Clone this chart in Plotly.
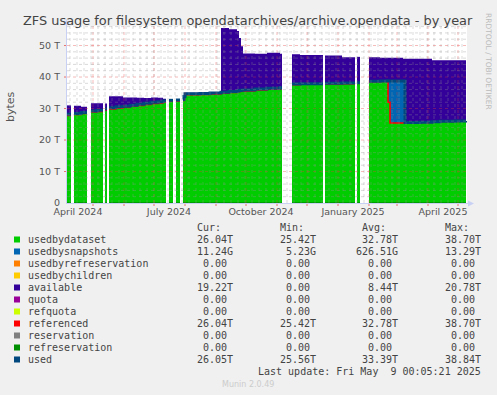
import plotly.graph_objects as go
import pandas as pd

# ---------------- data (values in TB) ----------------
dates = [
    "2024-04-05", "2024-04-09", "2024-04-10",
    "2024-04-12", "2024-04-19", "2024-04-25", "2024-04-26",
    "2024-04-29", "2024-05-05", "2024-05-11", "2024-05-12",
    "2024-05-13", "2024-05-15", "2024-05-16",
    "2024-05-17", "2024-05-24", "2024-05-31", "2024-06-07", "2024-06-14", "2024-06-21",
    "2024-06-28", "2024-07-05", "2024-07-10", "2024-07-13", "2024-07-14",
    "2024-07-16", "2024-07-20", "2024-07-21",
    "2024-07-23", "2024-07-27", "2024-07-28",
    "2024-07-30", "2024-07-31", "2024-08-01", "2024-08-16", "2024-08-26", "2024-09-06",
    "2024-09-14", "2024-09-22", "2024-09-24", "2024-09-26", "2024-09-28", "2024-10-10",
    "2024-10-22", "2024-11-04", "2024-11-06", "2024-11-07",
    "2024-11-16", "2024-11-24", "2024-12-17", "2024-12-18",
    "2024-12-19", "2025-01-05", "2025-01-18", "2025-01-19",
    "2025-01-20", "2025-01-23", "2025-01-24",
    "2025-02-01", "2025-02-12", "2025-02-19", "2025-02-20", "2025-02-22", "2025-03-07",
    "2025-03-09", "2025-03-24", "2025-04-05", "2025-04-13", "2025-04-28", "2025-05-09",
]
usedbydataset = [
    27.8, 27.8, None,
    28.1, 28.4, 28.4, None,
    28.9, 29.1, 29.1, None,
    29.5, 29.5, None,
    29.9, 30.2, 30.4, 30.7, 31.0, 31.3,
    31.6, 31.8, 32.0, 32.0, None,
    32.3, 32.3, None,
    32.4, 32.4, None,
    32.6, 33.5, 34.4, 34.5, 34.6, 34.9,
    35.1, 35.3, 35.4, 35.5, 35.6, 35.9,
    36.1, 36.3, 36.3, None,
    37.6, 37.7, 37.7, None,
    37.8, 37.9, 37.9, None,
    38.0, 38.0, None,
    38.5, 38.6, 38.7, 32.0, 25.42, 25.42,
    25.45, 25.60, 25.80, 25.90, 26.00, 26.04,
]
usedbysnapshots = [
    0.40, 0.40, None,
    0.35, 0.35, 0.35, None,
    0.35, 0.35, 0.35, None,
    0.35, 0.35, None,
    0.35, 0.35, 0.35, 0.35, 0.35, 0.35,
    0.35, 0.35, 0.35, 0.35, None,
    0.30, 0.30, None,
    0.30, 0.30, None,
    0.30, 0.30, 0.30, 0.30, 0.30, 0.30,
    0.30, 0.30, 0.30, 0.30, 0.30, 0.30,
    0.30, 0.30, 0.30, None,
    0.20, 0.20, 0.20, None,
    0.20, 0.20, 0.20, None,
    0.20, 0.20, None,
    0.14, 0.14, 0.14, 6.70, 13.29, 13.29,
    0.11, 0.05, 0.02, 0.02, 0.01, 0.01,
]
available = [
    2.80, 2.80, None,
    2.45, 1.85, 1.85, None,
    2.45, 2.25, 2.25, None,
    1.75, 1.75, None,
    3.65, 3.35, 2.75, 2.45, 2.05, 1.65,
    1.55, 1.25, 0.75, 0.75, None,
    0.40, 0.40, None,
    0.30, 0.30, None,
    0.30, 0.30, 0.30, 0.30, 0.30, 20.40,
    19.80, 19.00, 16.70, 14.00, 11.60, 11.20,
    11.30, 10.80, 10.80, None,
    9.40, 9.10, 9.10, None,
    8.80, 8.20, 8.20, None,
    8.20, 8.20, None,
    7.66, 7.36, 7.26, 7.40, 7.39, 7.09,
    20.24, 20.15, 19.48, 19.38, 19.29, 19.22,
]
referenced = [
    27.8, 27.8, None,
    28.1, 28.4, 28.4, None,
    28.9, 29.1, 29.1, None,
    29.5, 29.5, None,
    29.9, 30.2, 30.4, 30.7, 31.0, 31.3,
    31.6, 31.8, 32.0, 32.0, None,
    32.3, 32.3, None,
    32.4, 32.4, None,
    32.6, 33.5, 34.4, 34.5, 34.6, 34.9,
    35.1, 35.3, 35.4, 35.5, 35.6, 35.9,
    36.1, 36.3, 36.3, None,
    37.6, 37.7, 37.7, None,
    37.8, 37.9, 37.9, None,
    38.0, 38.0, None,
    38.5, 38.6, 38.7, 32.0, 25.42, 25.42,
    25.45, 25.60, 25.80, 25.90, 26.00, 26.04,
]
used = [
    28.2, 28.2, None,
    28.45, 28.75, 28.75, None,
    29.25, 29.45, 29.45, None,
    29.85, 29.85, None,
    30.25, 30.55, 30.75, 31.05, 31.35, 31.65,
    31.95, 32.15, 32.35, 32.35, None,
    32.6, 32.6, None,
    32.7, 32.7, None,
    32.9, 33.8, 34.7, 34.8, 34.9, 35.2,
    35.4, 35.6, 35.7, 35.8, 35.9, 36.2,
    36.4, 36.6, 36.6, None,
    37.8, 37.9, 37.9, None,
    38.0, 38.1, 38.1, None,
    38.2, 38.2, None,
    38.64, 38.74, 38.84, 38.70, 38.71, 38.71,
    25.56, 25.65, 25.82, 25.92, 26.01, 26.05,
]
# series that stay at zero over the whole period (same sampling as the others)
refreservation = [None if v is None else 0.0 for v in usedbydataset]

# x-axis labels
label_dates = ["2024-04-16", "2024-07-16", "2024-10-16", "2025-01-16", "2025-04-16"]
label_texts = ["April 2024", "July 2024", "October 2024", "January 2025", "April 2025"]
y_ticks = [0, 10, 20, 30, 40, 50]
y_labels = ["0", "10 T", "20 T", "30 T", "40 T", "50 T"]

# legend table
legend_names = ["usedbydataset", "usedbysnapshots", "usedbyrefreservation", "usedbychildren",
                "available", "quota", "refquota", "referenced", "reservation",
                "refreservation", "used"]
legend_colors = ["#00CC00", "#0066B3", "#FF8000", "#FFCC00", "#330099", "#990099",
                 "#CCFF00", "#FF0000", "#808080", "#008F00", "#00487D"]
cur_vals = ["26.04T", "11.24G", "0.00 ", "0.00 ", "19.22T", "0.00 ", "0.00 ", "26.04T", "0.00 ", "0.00 ", "26.05T"]
min_vals = ["25.42T", "5.23G", "0.00 ", "0.00 ", "0.00 ", "0.00 ", "0.00 ", "25.42T", "0.00 ", "0.00 ", "25.56T"]
avg_vals = ["32.78T", "626.51G", "0.00 ", "0.00 ", "8.44T", "0.00 ", "0.00 ", "32.78T", "0.00 ", "0.00 ", "33.39T"]
max_vals = ["38.70T", "13.29T", "0.00 ", "0.00 ", "20.78T", "0.00 ", "0.00 ", "38.70T", "0.00 ", "0.00 ", "38.84T"]

# ---------------- geometry helpers ----------------
W, H = 497, 395
PL, PR, PT, PB = 67, 467, 26, 203
X_RANGE = ["2024-04-05", "2025-05-10"]
Y_MAX = 56.2


def px(x):
    return (x - PL) / (PR - PL)


def py(y):
    return (PB - y) / (PB - PT)


SANS = "DejaVu Sans"
MONO = "DejaVu Sans Mono"

fig = go.Figure()

# split into contiguous blocks (gaps are None)
blocks = []
cur = []
for i, v in enumerate(usedbydataset):
    if v is None:
        if cur:
            blocks.append(cur)
        cur = []
    else:
        cur.append(i)
if cur:
    blocks.append(cur)

for b in blocks:
    bx = [dates[i] for i in b]
    top_all = [usedbydataset[i] + usedbysnapshots[i] + available[i] for i in b]
    top_snap = [usedbydataset[i] + usedbysnapshots[i] for i in b]
    top_data = [usedbydataset[i] for i in b]
    for yy, col in ((top_all, "#330099"), (top_snap, "#0066B3"), (top_data, "#00CC00")):
        fig.add_trace(go.Scatter(x=bx, y=yy, mode="lines", line=dict(width=0, shape="hv"),
                                 fill="tozeroy", fillcolor=col, showlegend=False,
                                 hoverinfo="skip"))

fig.add_trace(go.Scatter(x=dates, y=refreservation, mode="lines",
                         line=dict(color="#008F00", width=1.5, shape="hv"),
                         connectgaps=False, showlegend=False, hoverinfo="skip"))
fig.add_trace(go.Scatter(x=dates, y=referenced, mode="lines",
                         line=dict(color="#FF0000", width=1.6, shape="hv"),
                         connectgaps=False, showlegend=False, hoverinfo="skip"))
fig.add_trace(go.Scatter(x=dates, y=used, mode="lines",
                         line=dict(color="#00487D", width=3, shape="hv"),
                         connectgaps=False, showlegend=False, hoverinfo="skip"))

shapes = []
# grid drawn on top (as rrdtool does)
minor_col = "rgba(150,150,150,0.35)"
major_col = "rgba(230,60,60,0.35)"
month_starts = pd.date_range("2024-05-01", "2025-05-01", freq="MS")
week_starts = pd.date_range("2024-04-08", "2025-05-09", freq="7D")
for d in week_starts:
    shapes.append(dict(type="line", xref="x", yref="paper", x0=d, x1=d, y0=0, y1=1,
                       line=dict(color=minor_col, width=1, dash="dot"), layer="above"))
for d in month_starts:
    shapes.append(dict(type="line", xref="x", yref="paper", x0=d, x1=d, y0=0, y1=1,
                       line=dict(color=major_col, width=1, dash="dot"), layer="above"))
    shapes.append(dict(type="line", xref="x", yref="paper", x0=d, x1=d, y0=0, y1=-3 / (PB - PT),
                       line=dict(color="rgba(230,60,60,0.7)", width=1), layer="above"))
for v in range(2, 57, 2):
    col = major_col if v % 10 == 0 else minor_col
    shapes.append(dict(type="line", xref="paper", yref="y", x0=0, x1=1, y0=v, y1=v,
                       line=dict(color=col, width=1, dash="dot"), layer="above"))
    if v % 10 == 0:
        shapes.append(dict(type="line", xref="paper", yref="y", x0=0, x1=-3 / (PR - PL), y0=v, y1=v,
                           line=dict(color="rgba(230,60,60,0.7)", width=1), layer="above"))

# axes with arrows
axis_col = "#C8D0F4"
shapes.append(dict(type="line", xref="paper", yref="paper", x0=px(66.5), x1=px(66.5),
                   y0=py(203), y1=py(22), line=dict(color=axis_col, width=1), layer="above"))
shapes.append(dict(type="line", xref="paper", yref="paper", x0=px(66), x1=px(469),
                   y0=py(203.5), y1=py(203.5), line=dict(color=axis_col, width=1), layer="above"))
shapes.append(dict(type="path", xref="paper", yref="paper",
                   path=f"M {px(63.5)} {py(25)} L {px(69.5)} {py(25)} L {px(66.5)} {py(19)} Z",
                   fillcolor=axis_col, line=dict(width=0), layer="above"))
shapes.append(dict(type="path", xref="paper", yref="paper",
                   path=f"M {px(468)} {py(200.5)} L {px(468)} {py(206.5)} L {px(474)} {py(203.5)} Z",
                   fillcolor=axis_col, line=dict(width=0), layer="above"))

annotations = []
annotations.append(dict(text="ZFS usage for filesystem opendatarchives/archive.opendata - by year",
                        xref="paper", yref="paper", x=px(248), y=py(20), xanchor="center",
                        yanchor="middle", showarrow=False,
                        font=dict(family=SANS, size=12.9, color="#444444")))
annotations.append(dict(text="RRDTOOL / TOBI OETIKER", xref="paper", yref="paper",
                        x=px(488), y=py(61), xanchor="center", yanchor="middle", textangle=90,
                        showarrow=False, font=dict(family=SANS, size=7.5, color="#BBBBBB")))
annotations.append(dict(text="bytes", xref="paper", yref="paper", x=px(10), y=py(107),
                        xanchor="center", yanchor="middle", textangle=-90, showarrow=False,
                        font=dict(family=SANS, size=11, color="#555555")))

# legend header
for txt, right in (("Cur:", 223), ("Min:", 305.5), ("Avg:", 387.5), ("Max:", 470.5)):
    annotations.append(dict(text=txt, xref="paper", yref="paper", x=px(right), y=py(227),
                            xanchor="right", yanchor="middle", showarrow=False,
                            font=dict(family=MONO, size=10, color="#444444")))

row0 = 239.5
for k, name in enumerate(legend_names):
    yc = row0 + 12 * k
    shapes.append(dict(type="rect", xref="paper", yref="paper", x0=px(14), x1=px(20),
                       y0=py(yc - 3), y1=py(yc + 3), fillcolor=legend_colors[k],
                       line=dict(width=0), layer="above"))
    annotations.append(dict(text=name, xref="paper", yref="paper", x=px(26.3), y=py(yc),
                            xanchor="left", yanchor="middle", showarrow=False,
                            font=dict(family=MONO, size=10, color="#444444")))
    for vals, right in ((cur_vals, 235), (min_vals, 317.7), (avg_vals, 400), (max_vals, 482.5)):
        annotations.append(dict(text=vals[k].replace(" ", "\u00a0"), xref="paper", yref="paper",
                                x=px(right), y=py(yc), xanchor="right", yanchor="middle",
                                showarrow=False,
                                font=dict(family=MONO, size=10, color="#444444")))

annotations.append(dict(text="Last update: Fri May \u00a09 00:05:21 2025".replace(" ", "\u00a0"),
                        xref="paper", yref="paper", x=px(482.5), y=py(371.5), xanchor="right",
                        yanchor="middle", showarrow=False,
                        font=dict(family=MONO, size=10, color="#444444")))
annotations.append(dict(text="Munin 2.0.49", xref="paper", yref="paper", x=px(248), y=py(384),
                        xanchor="center", yanchor="middle", showarrow=False,
                        font=dict(family=SANS, size=8, color="#CCCCCC")))

fig.update_layout(
    width=W, height=H, autosize=False,
    margin=dict(l=PL, r=W - PR, t=PT, b=H - PB, pad=0),
    paper_bgcolor="#F0F0F0", plot_bgcolor="#FFFFFF",
    showlegend=False,
    xaxis=dict(type="date", range=X_RANGE, tickmode="array", tickvals=label_dates,
               ticktext=label_texts, showgrid=False, zeroline=False, showline=False,
               ticks="", ticklabelstandoff=1,
               tickfont=dict(family=SANS, size=9.5, color="#555555"), fixedrange=True),
    yaxis=dict(range=[0, Y_MAX], tickmode="array", tickvals=y_ticks, ticktext=y_labels,
               showgrid=False, zeroline=False, showline=False, ticks="",
               ticklabelstandoff=6,
               tickfont=dict(family=SANS, size=9.5, color="#555555"), fixedrange=True),
    shapes=shapes, annotations=annotations,
)

fig.write_html("out.html", config={"displayModeBar": False},
               post_script="document.body.style.margin='0px';document.body.style.overflow='hidden';")
